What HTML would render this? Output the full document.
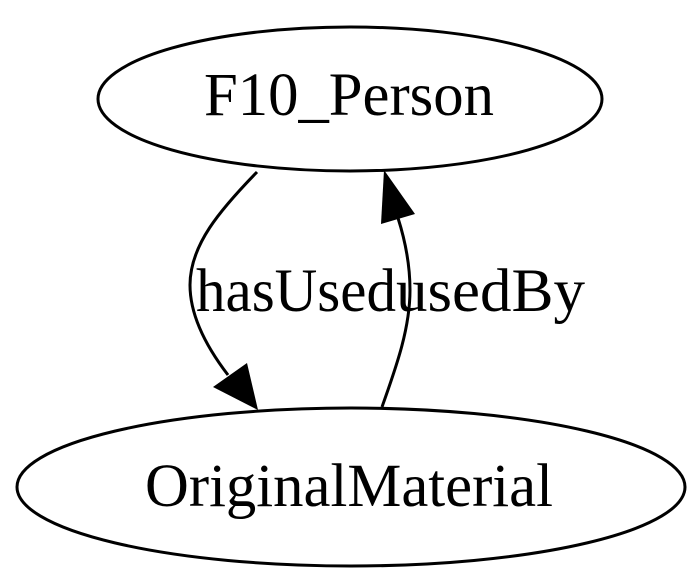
<!DOCTYPE html>
<html><head><style>
html,body{margin:0;padding:0;background:#fff;width:700px;height:582px;overflow:hidden}
text{font-family:"Liberation Serif",serif;font-size:61px;fill:#000}
</style></head><body>
<svg width="700" height="582" viewBox="0 0 700 582" xmlns="http://www.w3.org/2000/svg">
<ellipse cx="350" cy="99" rx="252" ry="72" fill="none" stroke="#000" stroke-width="3"/>
<text x="349" y="115" text-anchor="middle" textLength="290" lengthAdjust="spacingAndGlyphs">F10_Person</text>
<ellipse cx="351" cy="487" rx="334" ry="79" fill="none" stroke="#000" stroke-width="3"/>
<text x="349" y="506" text-anchor="middle" textLength="408" lengthAdjust="spacingAndGlyphs">OriginalMaterial</text>
<path d="M257,172 C220,210 190,245 190,285 C190,315 205,345 228,375" fill="none" stroke="#000" stroke-width="3"/>
<polygon points="213,387 247,363 258,410" fill="#000"/>
<path d="M382,407 C395,370 410,330 410,290 C410,265 405,240 398,218" fill="none" stroke="#000" stroke-width="3"/>
<polygon points="381,224 415,214 384,170" fill="#000"/>
<text x="196" y="311" textLength="200" lengthAdjust="spacingAndGlyphs">hasUsed</text>
<text x="396" y="311" textLength="189" lengthAdjust="spacingAndGlyphs">usedBy</text>
</svg>
</body></html>
